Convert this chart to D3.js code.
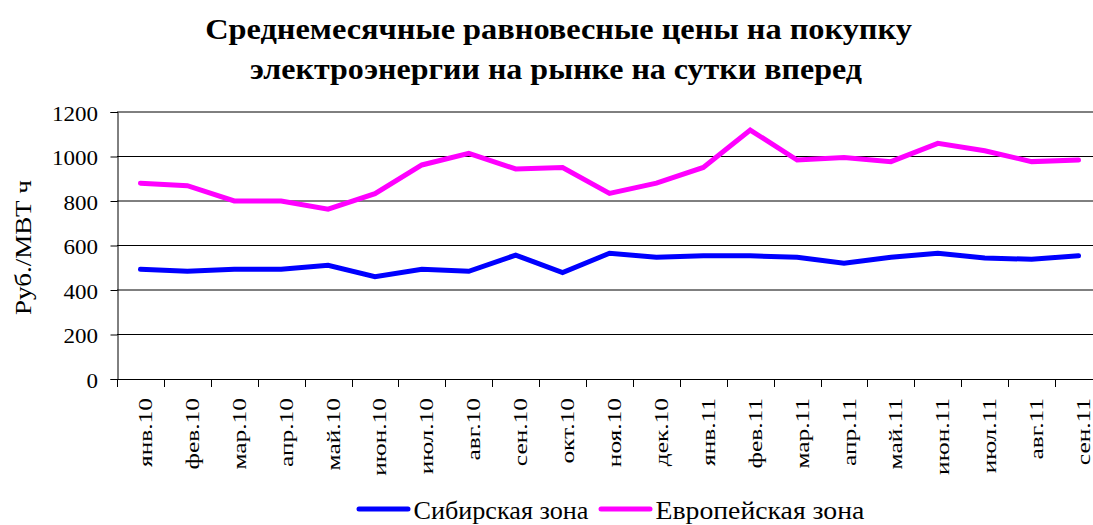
<!DOCTYPE html>
<html>
<head>
<meta charset="utf-8">
<script src="https://cdn.jsdelivr.net/npm/d3@7"></script>
<style>
body{margin:0;background:#fff;}
</style>
</head>
<body>
<script>
// data
const months = ["янв.10","фев.10","мар.10","апр.10","май.10","июн.10","июл.10","авг.10","сен.10","окт.10","ноя.10","дек.10",
                "янв.11","фев.11","мар.11","апр.11","май.11","июн.11","июл.11","авг.11","сен.11"];
const sibir  = [493,484,493,493,511,460,493,484,557,478,565,547,554,554,547,520,547,565,544,538,554];
const europe = [880,869,800,800,763,833,962,1014,944,950,834,880,951,1119,984,995,977,1059,1026,977,984];
const yTicks = [0,200,400,600,800,1000,1200];
const seriesNames = ["Сибирская зона","Европейская зона"];
const seriesColors = ["#0000ff","#ff00ff"];
const titleLines = ["Среднемесячные равновесные цены на покупку","электроэнергии на рынке на сутки вперед"];
const yTitle = "Руб./МВТ ч";

const w = 1093;
const h = 525;
const font = "Liberation Serif";

const svg = d3.select("body").append("svg")
    .attr("width", w)
    .attr("height", h)
    .attr("font-family", font);

const xScale = d3.scaleBand().domain(months).range([117, 1102]);
const yScale = d3.scaleLinear().domain([0, 1200]).range([379, 112]);
const bw = xScale.bandwidth();

// stretch factor so a text gets the width it has in the picture
function widthFactor(node, target) {
    return target / node.getComputedTextLength();
}

//gridlines
svg.append("g").selectAll("line")
    .data(yTicks.filter(d => d > 0))
    .join("line")
    .attr("x1", 117).attr("x2", 1102)
    .attr("y1", d => yScale(d)).attr("y2", d => yScale(d))
    .attr("stroke", "#000").attr("stroke-width", 1);

//y axis
const yAxis = svg.append("g")
    .attr("transform", "translate(117.5,0)")
    .call(d3.axisLeft(yScale).tickValues(yTicks).tickSize(7).tickFormat(d3.format("d")));
yAxis.attr("font-family", font);
yAxis.select(".domain").attr("stroke", "#000");
yAxis.selectAll(".tick line").attr("stroke", "#000");
const yText = yAxis.selectAll("text")
    .attr("x", null).attr("dy", null)
    .attr("font-size", 20)
    .attr("font-family", font)
    .attr("fill", "#000")
    .attr("text-anchor", "end");
const ky = widthFactor(yText.filter(d => d == 1200).node(), 46);
yText.attr("transform", "translate(-19.5,8) scale(" + ky + ",1)");

//x axis line and ticks between months
svg.append("line")
    .attr("x1", 117).attr("x2", 1102)
    .attr("y1", 379.5).attr("y2", 379.5)
    .attr("stroke", "#000");
svg.append("g").selectAll("line")
    .data(months)
    .join("line")
    .attr("x1", d => Math.round(xScale(d)) + 0.5)
    .attr("x2", d => Math.round(xScale(d)) + 0.5)
    .attr("y1", 379).attr("y2", 387)
    .attr("stroke", "#000");

const xText = svg.append("g").selectAll("text")
    .data(months)
    .join("text")
    .text(d => d)
    .attr("font-family", font)
    .attr("font-size", 19)
    .attr("text-anchor", "end");
const kx = widthFactor(xText.node(), 69);
xText.attr("transform", d => "translate(" + (xScale(d) + bw / 2 + 11.5) + ",398) rotate(-90) scale(" + kx + ",1)");

//y title
const yt = svg.append("text")
    .text(yTitle)
    .attr("font-family", font)
    .attr("font-size", 23)
    .attr("text-anchor", "middle");
yt.attr("transform", "translate(31,247.5) rotate(-90) scale(" + widthFactor(yt.node(), 135) + ",1)");

//title
const titleX = [558.5, 556];
const titleY = [39, 79];
const titleW = [707, 612];
titleLines.forEach((t, i) => {
    const tt = svg.append("text")
        .text(t)
        .attr("font-family", font)
        .attr("font-size", 29)
        .attr("font-weight", "bold")
        .attr("text-anchor", "middle");
    tt.attr("transform", "translate(" + titleX[i] + "," + titleY[i] + ") scale(" + widthFactor(tt.node(), titleW[i]) + ",1)");
});

//series lines
const line = d3.line()
    .x((d, i) => xScale(months[i]) + bw / 2)
    .y(d => yScale(d));

[sibir, europe].forEach((s, i) => {
    svg.append("path")
        .datum(s)
        .attr("d", line)
        .attr("fill", "none")
        .attr("stroke", seriesColors[i])
        .attr("stroke-width", 5)
        .attr("stroke-linecap", "round");
});

//legend
const legX = [357, 599];
const legTextW = [175, 209];
seriesNames.forEach((n, i) => {
    svg.append("line")
        .attr("x1", legX[i] + 2).attr("x2", legX[i] + 51)
        .attr("y1", 509).attr("y2", 509)
        .attr("stroke", seriesColors[i])
        .attr("stroke-width", 5)
        .attr("stroke-linecap", "round");
    const lt = svg.append("text")
        .text(n)
        .attr("font-family", font)
        .attr("font-size", 25);
    lt.attr("transform", "translate(" + (legX[i] + 56.5) + ",519) scale(" + widthFactor(lt.node(), legTextW[i]) + ",1)");
});
</script>
</body>
</html>
